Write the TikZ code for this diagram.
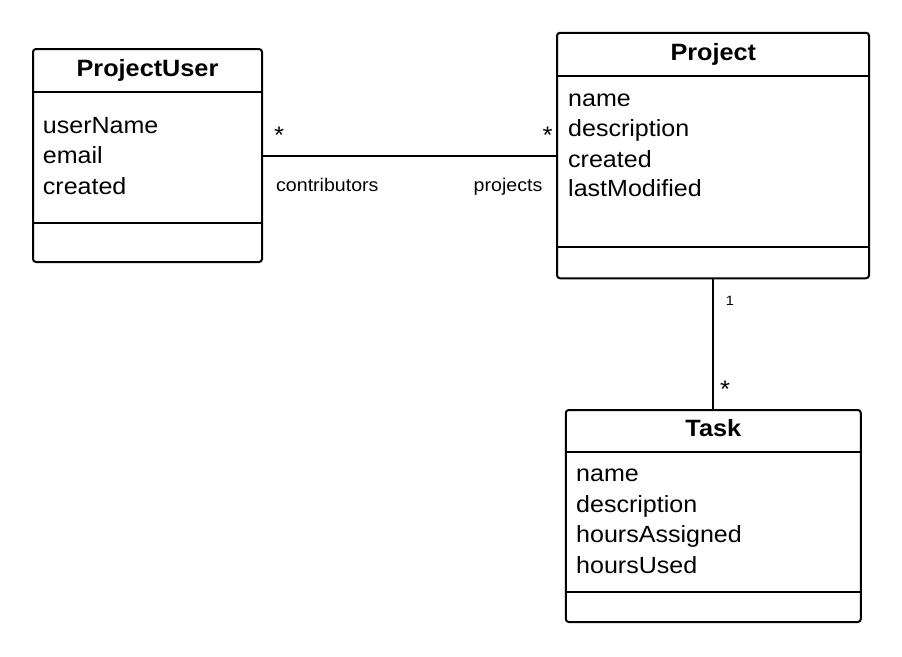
\documentclass[tikz,border=0pt]{standalone}
\usepackage{fontspec}
\setmainfont{Liberation Sans}[FakeStretch=1.07]
\begin{document}
\begin{tikzpicture}[x=1pt,y=-1pt,
  classbox/.style={draw=black, line width=2pt, rounded corners=3pt, fill=white, inner sep=0pt},
  sepline/.style={draw=black, line width=2pt},
  conn/.style={draw=black, line width=2pt},
  title/.style={anchor=base, inner sep=0pt, font=\fontsize{23.6}{27}\selectfont\bfseries},
  attr/.style={anchor=base west, inner sep=0pt, font=\fontsize{23.4}{27}\selectfont},
  role/.style={inner sep=0pt, font=\fontsize{18.3}{21}\selectfont},
  mult/.style={anchor=base, inner sep=0pt, font=\fontsize{24}{27}\selectfont},
  multsmall/.style={anchor=base, inner sep=0pt, font=\fontsize{13.5}{15}\selectfont}]
\useasboundingbox[fill=white] (0,0) rectangle (902,656);

% ProjectUser
\node[classbox, minimum width=229pt, minimum height=213pt] (pu) at (147.5,155.5) {};
\draw[sepline] (pu.west |- 0,92.3) -- (pu.east |- 0,92.3);
\draw[sepline] (pu.west |- 0,223) -- (pu.east |- 0,223);
\node[title] (puT) at (147.5,76) {ProjectUser};
\node[attr] (pu1) at (42.7,133) {userName};
\node[attr] (pu2) at (42.7,163.5) {email};
\node[attr] (pu3) at (42.7,194) {created};

% Project
\node[classbox, minimum width=312pt, minimum height=245.5pt] (pr) at (713,155.5) {};
\draw[sepline] (pr.west |- 0,76) -- (pr.east |- 0,76);
\draw[sepline] (pr.west |- 0,246.7) -- (pr.east |- 0,246.7);
\node[title] (prT) at (713.3,60) {Project};
\node[attr] (pr1) at (568,106) {name};
\node[attr] (pr2) at (568,136.5) {description};
\node[attr] (pr3) at (568,167) {created};
\node[attr] (pr4) at (568,196.8) {lastModified};

% Task
\node[classbox, minimum width=295pt, minimum height=212pt] (tk) at (713.3,516) {};
\draw[sepline] (tk.west |- 0,452.3) -- (tk.east |- 0,452.3);
\draw[sepline] (tk.west |- 0,591.7) -- (tk.east |- 0,591.7);
\node[title] (tkT) at (713.3,436) {Task};
\node[attr] (tk1) at (576,481.7) {name};
\node[attr] (tk2) at (576,512) {description};
\node[attr] (tk3) at (576,542.7) {hoursAssigned};
\node[attr] (tk4) at (576,573.3) {hoursUsed};

% connectors
\draw[conn] (pu.east) -- (pr.west);
\draw[conn] (pr.south) -- (pr.south |- tk.north);

% labels
\node[mult] (m1) at (279,143.5) {*};
\node[mult] (m2) at (547.5,143.5) {*};
\node[role, anchor=base west] (r1) at (276,191.7) {contributors};
\node[role, anchor=base east] (r2) at (542.5,191.7) {projects};
\node[multsmall] (m3) at (730,305.7) {1};
\node[mult] (m4) at (725,397) {*};
\end{tikzpicture}
\end{document}
